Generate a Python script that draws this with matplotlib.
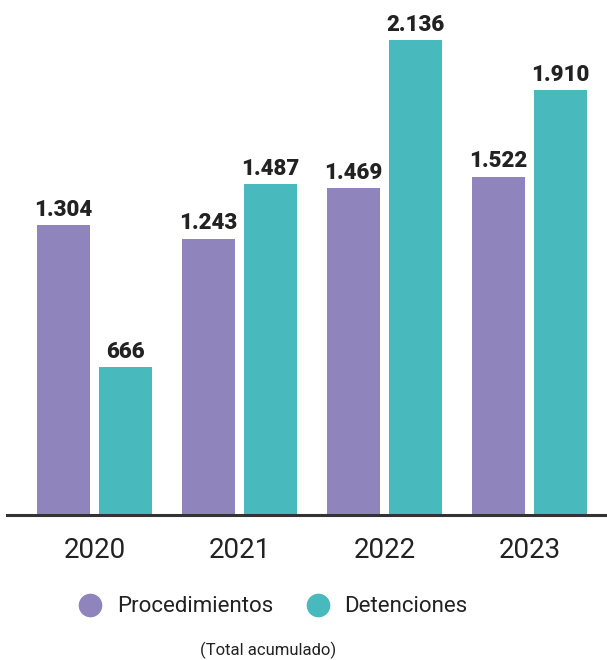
import matplotlib.pyplot as plt
import numpy as np
from matplotlib.lines import Line2D

years = ["2020", "2021", "2022", "2023"]
procedimientos = [1304, 1243, 1469, 1522]
detenciones = [666, 1487, 2136, 1910]
labels_proc = ["1.304", "1.243", "1.469", "1.522"]
labels_det = ["666", "1.487", "2.136", "1.910"]

PURPLE = "#9084bd"
TEAL = "#48b9bc"
DARK = "#222222"
FONT = ["Liberation Sans Narrow", "Roboto", "DejaVu Sans"]

plt.rcParams["font.family"] = FONT

W, H = 607, 660
fig = plt.figure(figsize=(W / 100, H / 100), dpi=100)
ax = fig.add_axes([7 / W, 1 - 515 / H, 600 / W, 515 / H])

x = np.arange(len(years))
width = 53 / 145
off = 31 / 145
b1 = ax.bar(x - off, procedimientos, width, color=PURPLE)
b2 = ax.bar(x + off, detenciones, width, color=TEAL)

for bars, labs in ((b1, labels_proc), (b2, labels_det)):
    for rect, lab in zip(bars, labs):
        ax.annotate(lab, (rect.get_x() + rect.get_width() / 2, rect.get_height()),
                    xytext=(0, 3), textcoords="offset points",
                    ha="center", va="bottom", fontsize=16, fontweight="heavy", color=DARK)

ax.set_xlim(-87.5 / 145, -87.5 / 145 + 600 / 145)
ax.set_ylim(0, 515 / 0.2224)
for s in ("top", "right", "left"):
    ax.spines[s].set_visible(False)
ax.spines["bottom"].set_linewidth(2.2)
ax.spines["bottom"].set_color("#333333")
ax.set_yticks([])
ax.set_xticks(x)
ax.set_xticklabels(years, fontsize=20, color=DARK)
ax.tick_params(axis="x", length=0, pad=16)

handles = [
    Line2D([], [], ls="none", marker="o", markersize=16, color=PURPLE),
    Line2D([], [], ls="none", marker="o", markersize=16, color=TEAL),
]
fig.legend(handles, ["Procedimientos", "Detenciones"], loc="center",
           bbox_to_anchor=(268 / W, 1 - 607 / H), ncol=2, frameon=False,
           prop={"size": 16}, handletextpad=0.2,
           columnspacing=1.0, labelcolor=DARK)

fig.text(268 / W, 1 - 650 / H, "(Total acumulado)", ha="center", va="center",
         fontsize=12, color=DARK)

fig.savefig("out.png", dpi=100)
